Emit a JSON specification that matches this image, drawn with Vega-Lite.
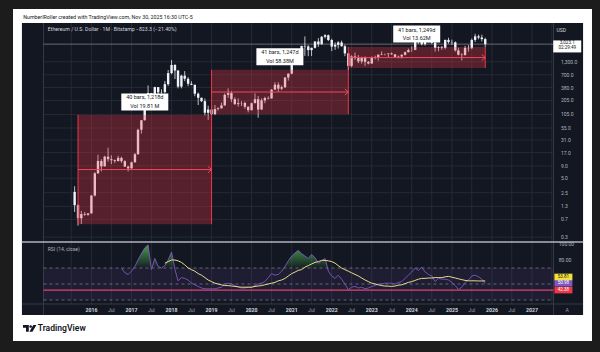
{
"$schema": "https://vega.github.io/schema/vega-lite/v6.json",
"background": "#1c1c1c",
"autosize": {"type": "none"},
"padding": {"left": 13, "top": 9, "right": 8, "bottom": 11},
"width": 579,
"height": 332,
"view": {"fill": "#ffffff", "stroke": null},
"config": {"font": "Roboto", "axis": {"disable": true}},
"resolve": {"scale": {"y": "independent"}},
"datasets": {
"candles": [
{"d":"2015-08-01","o":2.6,"h":3.4,"l":1.0,"c":1.38},
{"d":"2015-09-01","o":1.38,"h":1.45,"l":0.52,"c":0.74},
{"d":"2015-10-01","o":0.74,"h":1.05,"l":0.56,"c":0.9},
{"d":"2015-11-01","o":0.9,"h":1.0,"l":0.83,"c":0.87},
{"d":"2015-12-01","o":0.87,"h":0.95,"l":0.83,"c":0.93},
{"d":"2016-01-01","o":0.93,"h":2.25,"l":0.92,"c":2.18},
{"d":"2016-02-01","o":2.18,"h":6.7,"l":2.1,"c":6.3},
{"d":"2016-03-01","o":6.3,"h":15.3,"l":6.2,"c":11.4},
{"d":"2016-04-01","o":11.4,"h":12.4,"l":6.9,"c":8.8},
{"d":"2016-05-01","o":8.8,"h":14.6,"l":8.8,"c":14.0},
{"d":"2016-06-01","o":14.0,"h":21.5,"l":11.0,"c":12.4},
{"d":"2016-07-01","o":12.4,"h":14.9,"l":9.8,"c":11.8},
{"d":"2016-08-01","o":11.8,"h":12.2,"l":10.4,"c":11.3},
{"d":"2016-09-01","o":11.3,"h":14.6,"l":11.2,"c":13.2},
{"d":"2016-10-01","o":13.2,"h":14.0,"l":10.4,"c":11.3},
{"d":"2016-11-01","o":11.3,"h":11.8,"l":8.6,"c":8.7},
{"d":"2016-12-01","o":8.7,"h":9.1,"l":6.9,"c":8.0},
{"d":"2017-01-01","o":8.0,"h":11.0,"l":7.9,"c":10.7},
{"d":"2017-02-01","o":10.7,"h":16.6,"l":10.5,"c":15.7},
{"d":"2017-03-01","o":15.7,"h":53.0,"l":15.5,"c":50.6},
{"d":"2017-04-01","o":50.6,"h":80.3,"l":42.0,"c":79.9},
{"d":"2017-05-01","o":79.9,"h":232,"l":78,"c":230},
{"d":"2017-06-01","o":230,"h":420,"l":220,"c":292},
{"d":"2017-07-01","o":292,"h":293,"l":132,"c":201},
{"d":"2017-08-01","o":201,"h":395,"l":200,"c":388},
{"d":"2017-09-01","o":388,"h":390,"l":197,"c":302},
{"d":"2017-10-01","o":302,"h":350,"l":283,"c":305},
{"d":"2017-11-01","o":305,"h":520,"l":290,"c":447},
{"d":"2017-12-01","o":447,"h":880,"l":410,"c":756},
{"d":"2018-01-01","o":756,"h":1420,"l":717,"c":1118},
{"d":"2018-02-01","o":1118,"h":1160,"l":570,"c":856},
{"d":"2018-03-01","o":856,"h":880,"l":365,"c":397},
{"d":"2018-04-01","o":397,"h":700,"l":365,"c":670},
{"d":"2018-05-01","o":670,"h":835,"l":515,"c":578},
{"d":"2018-06-01","o":578,"h":625,"l":405,"c":455},
{"d":"2018-07-01","o":455,"h":515,"l":425,"c":434},
{"d":"2018-08-01","o":434,"h":435,"l":250,"c":283},
{"d":"2018-09-01","o":283,"h":300,"l":165,"c":233},
{"d":"2018-10-01","o":233,"h":235,"l":190,"c":198},
{"d":"2018-11-01","o":198,"h":225,"l":100,"c":114},
{"d":"2018-12-01","o":114,"h":160,"l":81,"c":133},
{"d":"2019-01-01","o":133,"h":160,"l":101,"c":107},
{"d":"2019-02-01","o":107,"h":165,"l":102,"c":136},
{"d":"2019-03-01","o":136,"h":148,"l":127,"c":141},
{"d":"2019-04-01","o":141,"h":185,"l":139,"c":162},
{"d":"2019-05-01","o":162,"h":288,"l":160,"c":268},
{"d":"2019-06-01","o":268,"h":365,"l":231,"c":291},
{"d":"2019-07-01","o":291,"h":320,"l":189,"c":218},
{"d":"2019-08-01","o":218,"h":238,"l":166,"c":172},
{"d":"2019-09-01","o":172,"h":225,"l":153,"c":180},
{"d":"2019-10-01","o":180,"h":198,"l":157,"c":182},
{"d":"2019-11-01","o":182,"h":194,"l":138,"c":152},
{"d":"2019-12-01","o":152,"h":155,"l":116,"c":129},
{"d":"2020-01-01","o":129,"h":185,"l":127,"c":180},
{"d":"2020-02-01","o":180,"h":288,"l":180,"c":218},
{"d":"2020-03-01","o":218,"h":253,"l":90,"c":133},
{"d":"2020-04-01","o":133,"h":227,"l":131,"c":206},
{"d":"2020-05-01","o":206,"h":245,"l":180,"c":231},
{"d":"2020-06-01","o":231,"h":250,"l":215,"c":226},
{"d":"2020-07-01","o":226,"h":350,"l":224,"c":345},
{"d":"2020-08-01","o":345,"h":490,"l":340,"c":435},
{"d":"2020-09-01","o":435,"h":488,"l":310,"c":360},
{"d":"2020-10-01","o":360,"h":420,"l":335,"c":386},
{"d":"2020-11-01","o":386,"h":625,"l":370,"c":614},
{"d":"2020-12-01","o":614,"h":755,"l":530,"c":737},
{"d":"2021-01-01","o":737,"h":1475,"l":715,"c":1314},
{"d":"2021-02-01","o":1314,"h":2040,"l":1300,"c":1417},
{"d":"2021-03-01","o":1417,"h":1945,"l":1400,"c":1919},
{"d":"2021-04-01","o":1919,"h":2800,"l":1870,"c":2773},
{"d":"2021-05-01","o":2773,"h":4380,"l":1730,"c":2707},
{"d":"2021-06-01","o":2707,"h":2890,"l":1700,"c":2275},
{"d":"2021-07-01","o":2275,"h":2550,"l":1720,"c":2536},
{"d":"2021-08-01","o":2536,"h":3470,"l":2450,"c":3433},
{"d":"2021-09-01","o":3433,"h":4030,"l":2650,"c":3001},
{"d":"2021-10-01","o":3001,"h":4460,"l":2970,"c":4288},
{"d":"2021-11-01","o":4288,"h":4870,"l":3960,"c":4631},
{"d":"2021-12-01","o":4631,"h":4780,"l":3500,"c":3683},
{"d":"2022-01-01","o":3683,"h":3900,"l":2160,"c":2688},
{"d":"2022-02-01","o":2688,"h":3280,"l":2300,"c":2922},
{"d":"2022-03-01","o":2922,"h":3480,"l":2450,"c":3282},
{"d":"2022-04-01","o":3282,"h":3580,"l":2700,"c":2730},
{"d":"2022-05-01","o":2730,"h":2960,"l":1700,"c":1942},
{"d":"2022-06-01","o":1942,"h":1970,"l":880,"c":1070},
{"d":"2022-07-01","o":1070,"h":1780,"l":1000,"c":1679},
{"d":"2022-08-01","o":1679,"h":2030,"l":1420,"c":1553},
{"d":"2022-09-01","o":1553,"h":1790,"l":1220,"c":1328},
{"d":"2022-10-01","o":1328,"h":1660,"l":1190,"c":1572},
{"d":"2022-11-01","o":1572,"h":1680,"l":1070,"c":1295},
{"d":"2022-12-01","o":1295,"h":1350,"l":1150,"c":1196},
{"d":"2023-01-01","o":1196,"h":1680,"l":1190,"c":1586},
{"d":"2023-02-01","o":1586,"h":1740,"l":1460,"c":1605},
{"d":"2023-03-01","o":1605,"h":1850,"l":1370,"c":1822},
{"d":"2023-04-01","o":1822,"h":2140,"l":1780,"c":1869},
{"d":"2023-05-01","o":1869,"h":1930,"l":1760,"c":1874},
{"d":"2023-06-01","o":1874,"h":1930,"l":1620,"c":1934},
{"d":"2023-07-01","o":1934,"h":2030,"l":1825,"c":1857},
{"d":"2023-08-01","o":1857,"h":1870,"l":1550,"c":1646},
{"d":"2023-09-01","o":1646,"h":1750,"l":1530,"c":1671},
{"d":"2023-10-01","o":1671,"h":1865,"l":1520,"c":1815},
{"d":"2023-11-01","o":1815,"h":2130,"l":1760,"c":2052},
{"d":"2023-12-01","o":2052,"h":2450,"l":2050,"c":2282},
{"d":"2024-01-01","o":2282,"h":2720,"l":2100,"c":2283},
{"d":"2024-02-01","o":2283,"h":3520,"l":2260,"c":3340},
{"d":"2024-03-01","o":3340,"h":4090,"l":3050,"c":3647},
{"d":"2024-04-01","o":3647,"h":3730,"l":2850,"c":3013},
{"d":"2024-05-01","o":3013,"h":3980,"l":2820,"c":3761},
{"d":"2024-06-01","o":3761,"h":3890,"l":3240,"c":3434},
{"d":"2024-07-01","o":3434,"h":3560,"l":3060,"c":3232},
{"d":"2024-08-01","o":3232,"h":3480,"l":2120,"c":2514},
{"d":"2024-09-01","o":2514,"h":2730,"l":2150,"c":2604},
{"d":"2024-10-01","o":2604,"h":2770,"l":2310,"c":2518},
{"d":"2024-11-01","o":2518,"h":3740,"l":2360,"c":3703},
{"d":"2024-12-01","o":3703,"h":4110,"l":3100,"c":3332},
{"d":"2025-01-01","o":3332,"h":3745,"l":2920,"c":3300},
{"d":"2025-02-01","o":3300,"h":3440,"l":2120,"c":2237},
{"d":"2025-03-01","o":2237,"h":2550,"l":1760,"c":1822},
{"d":"2025-04-01","o":1822,"h":1960,"l":1385,"c":1794},
{"d":"2025-05-01","o":1794,"h":2790,"l":1750,"c":2529},
{"d":"2025-06-01","o":2529,"h":2880,"l":2110,"c":2486},
{"d":"2025-07-01","o":2486,"h":3940,"l":2370,"c":3698},
{"d":"2025-08-01","o":3698,"h":4955,"l":3350,"c":4390},
{"d":"2025-09-01","o":4390,"h":4770,"l":3815,"c":4145},
{"d":"2025-10-01","o":4145,"h":4755,"l":3435,"c":3846.4},
{"d":"2025-11-01","o":3846.4,"h":4100,"l":2620,"c":3023.1}
],
"boxes": [
{"s":"2015-09-01","e":"2019-01-01","lab":"2017-05-02","lo":0.557,"hi":102.7,"mid":7.56,"t1":"40 bars, 1,218d","t2":"Vol 19.81 M"},
{"s":"2019-01-01","e":"2022-06-01","lab":"2020-09-15","lo":106.5,"hi":887,"mid":307,"t1":"41 bars, 1,247d","t2":"Vol 58.38M"},
{"s":"2022-06-01","e":"2025-11-01","lab":"2024-02-15","lo":962,"hi":2630,"mid":1590,"t1":"41 bars, 1,249d","t2":"Vol 13.62M"}
],
"ticks": [{"p":0.3},{"p":0.7},{"p":1.3},{"p":2.5},{"p":5},{"p":9},{"p":17},{"p":31},{"p":55},{"p":105},{"p":205},{"p":380},{"p":700},{"p":1300}],
"vgrid": [{"d":"2015-07-01"},{"d":"2016-01-01"},{"d":"2016-07-01"},{"d":"2017-01-01"},{"d":"2017-07-01"},{"d":"2018-01-01"},{"d":"2018-07-01"},{"d":"2019-01-01"},{"d":"2019-07-01"},{"d":"2020-01-01"},{"d":"2020-07-01"},{"d":"2021-01-01"},{"d":"2021-07-01"},{"d":"2022-01-01"},{"d":"2022-07-01"},{"d":"2023-01-01"},{"d":"2023-07-01"},{"d":"2024-01-01"},{"d":"2024-07-01"},{"d":"2025-01-01"},{"d":"2025-07-01"},{"d":"2026-01-01"},{"d":"2026-07-01"},{"d":"2027-01-01"},{"d":"2027-07-01"}],
"xl": [{"d":"2016-01-01","t":"2016"},{"d":"2016-07-01","t":"Jul"},{"d":"2017-01-01","t":"2017"},{"d":"2017-07-01","t":"Jul"},{"d":"2018-01-01","t":"2018"},{"d":"2018-07-01","t":"Jul"},{"d":"2019-01-01","t":"2019"},{"d":"2019-07-01","t":"Jul"},{"d":"2020-01-01","t":"2020"},{"d":"2020-07-01","t":"Jul"},{"d":"2021-01-01","t":"2021"},{"d":"2021-07-01","t":"Jul"},{"d":"2022-01-01","t":"2022"},{"d":"2022-07-01","t":"Jul"},{"d":"2023-01-01","t":"2023"},{"d":"2023-07-01","t":"Jul"},{"d":"2024-01-01","t":"2024"},{"d":"2024-07-01","t":"Jul"},{"d":"2025-01-01","t":"2025"},{"d":"2025-07-01","t":"Jul"},{"d":"2026-01-01","t":"2026"},{"d":"2026-07-01","t":"Jul"},{"d":"2027-01-01","t":"2027"}],
"rsi": [
{"d":"2016-10-01","rsi":70,"ob":70},{"d":"2016-11-01","rsi":64,"ob":70},{"d":"2016-12-01","rsi":62,"ob":70},
{"d":"2017-01-01","rsi":66,"ob":70},{"d":"2017-02-01","rsi":72,"ob":72},{"d":"2017-03-01","rsi":80,"ob":80},{"d":"2017-04-01","rsi":88,"ob":88},{"d":"2017-05-01","rsi":95,"ob":95},{"d":"2017-06-01","rsi":99,"ob":99},{"d":"2017-07-01","rsi":68,"ob":70},{"d":"2017-08-01","rsi":82,"ob":82},{"d":"2017-09-01","rsi":72,"ob":72},{"d":"2017-10-01","rsi":70,"ob":70},{"d":"2017-11-01","rsi":73,"ob":73,"ma":76},{"d":"2017-12-01","rsi":80,"ob":80,"ma":78},
{"d":"2018-01-01","rsi":90,"ob":90,"ma":80},{"d":"2018-02-01","rsi":68,"ob":70,"ma":80},{"d":"2018-03-01","rsi":54,"ob":70,"ma":79},{"d":"2018-04-01","rsi":58,"ob":70,"ma":77},{"d":"2018-05-01","rsi":57,"ob":70,"ma":74},{"d":"2018-06-01","rsi":55,"ob":70,"ma":70},{"d":"2018-07-01","rsi":51,"ob":70,"ma":68},{"d":"2018-08-01","rsi":49,"ob":70,"ma":66},{"d":"2018-09-01","rsi":47,"ob":70,"ma":63},{"d":"2018-10-01","rsi":45,"ob":70,"ma":61},{"d":"2018-11-01","rsi":44,"ob":70,"ma":58},{"d":"2018-12-01","rsi":44,"ob":70,"ma":55},
{"d":"2019-01-01","rsi":44,"ob":70,"ma":53},{"d":"2019-02-01","rsi":44,"ob":70,"ma":51},{"d":"2019-03-01","rsi":45,"ob":70,"ma":50},{"d":"2019-04-01","rsi":46,"ob":70,"ma":49},{"d":"2019-05-01","rsi":50,"ob":70,"ma":48},{"d":"2019-06-01","rsi":51,"ob":70,"ma":48},{"d":"2019-07-01","rsi":50,"ob":70,"ma":47.5},{"d":"2019-08-01","rsi":48,"ob":70,"ma":47},{"d":"2019-09-01","rsi":46,"ob":70,"ma":46.5},{"d":"2019-10-01","rsi":45,"ob":70,"ma":46},{"d":"2019-11-01","rsi":45,"ob":70,"ma":46},{"d":"2019-12-01","rsi":46,"ob":70,"ma":46},
{"d":"2020-01-01","rsi":46,"ob":70,"ma":46},{"d":"2020-02-01","rsi":48,"ob":70,"ma":47},{"d":"2020-03-01","rsi":50,"ob":70,"ma":47.5},{"d":"2020-04-01","rsi":51,"ob":70,"ma":48},{"d":"2020-05-01","rsi":53,"ob":70,"ma":49},{"d":"2020-06-01","rsi":58,"ob":70,"ma":50},{"d":"2020-07-01","rsi":63,"ob":70,"ma":51},{"d":"2020-08-01","rsi":61,"ob":70,"ma":52},{"d":"2020-09-01","rsi":62,"ob":70,"ma":54},{"d":"2020-10-01","rsi":66,"ob":70,"ma":55},{"d":"2020-11-01","rsi":72,"ob":72,"ma":57},{"d":"2020-12-01","rsi":79,"ob":79,"ma":60},
{"d":"2021-01-01","rsi":85,"ob":85,"ma":63},{"d":"2021-02-01","rsi":89,"ob":89,"ma":65},{"d":"2021-03-01","rsi":92,"ob":92,"ma":67},{"d":"2021-04-01","rsi":88,"ob":88,"ma":68},{"d":"2021-05-01","rsi":85,"ob":85,"ma":71},{"d":"2021-06-01","rsi":82,"ob":82,"ma":73},{"d":"2021-07-01","rsi":87,"ob":87,"ma":75},{"d":"2021-08-01","rsi":83,"ob":83,"ma":77},{"d":"2021-09-01","rsi":76,"ob":76,"ma":78},{"d":"2021-10-01","rsi":79,"ob":79,"ma":79.5},{"d":"2021-11-01","rsi":82,"ob":82,"ma":79.5},{"d":"2021-12-01","rsi":66,"ob":70,"ma":79},
{"d":"2022-01-01","rsi":60,"ob":70,"ma":78},{"d":"2022-02-01","rsi":57,"ob":70,"ma":76},{"d":"2022-03-01","rsi":61,"ob":70,"ma":73},{"d":"2022-04-01","rsi":56,"ob":70,"ma":70},{"d":"2022-05-01","rsi":50,"ob":70,"ma":68},{"d":"2022-06-01","rsi":43,"ob":70,"ma":66},{"d":"2022-07-01","rsi":46,"ob":70,"ma":64},{"d":"2022-08-01","rsi":47,"ob":70,"ma":62},{"d":"2022-09-01","rsi":45,"ob":70,"ma":60},{"d":"2022-10-01","rsi":46,"ob":70,"ma":57.5},{"d":"2022-11-01","rsi":44,"ob":70,"ma":55},{"d":"2022-12-01","rsi":45,"ob":70,"ma":53},
{"d":"2023-01-01","rsi":47,"ob":70,"ma":51},{"d":"2023-02-01","rsi":48,"ob":70,"ma":50},{"d":"2023-03-01","rsi":50,"ob":70,"ma":49},{"d":"2023-04-01","rsi":50,"ob":70,"ma":48},{"d":"2023-05-01","rsi":51,"ob":70,"ma":47.5},{"d":"2023-06-01","rsi":51,"ob":70,"ma":47.3},{"d":"2023-07-01","rsi":51,"ob":70,"ma":47},{"d":"2023-08-01","rsi":50,"ob":70,"ma":47.5},{"d":"2023-09-01","rsi":52,"ob":70,"ma":48.5},{"d":"2023-10-01","rsi":53,"ob":70,"ma":49},{"d":"2023-11-01","rsi":57,"ob":70,"ma":50.5},{"d":"2023-12-01","rsi":61,"ob":70,"ma":52},
{"d":"2024-01-01","rsi":65,"ob":70,"ma":53},{"d":"2024-02-01","rsi":70,"ob":70,"ma":54.5},{"d":"2024-03-01","rsi":67,"ob":70,"ma":56},{"d":"2024-04-01","rsi":71,"ob":71,"ma":57},{"d":"2024-05-01","rsi":65,"ob":70,"ma":57},{"d":"2024-06-01","rsi":62,"ob":70,"ma":57.5},{"d":"2024-07-01","rsi":60,"ob":70,"ma":57.5},{"d":"2024-08-01","rsi":53,"ob":70,"ma":58},{"d":"2024-09-01","rsi":57,"ob":70,"ma":58},{"d":"2024-10-01","rsi":56,"ob":70,"ma":58},{"d":"2024-11-01","rsi":56,"ob":70,"ma":59},{"d":"2024-12-01","rsi":55,"ob":70,"ma":59.5},
{"d":"2025-01-01","rsi":52,"ob":70,"ma":58.5},{"d":"2025-02-01","rsi":48,"ob":70,"ma":57.5},{"d":"2025-03-01","rsi":43,"ob":70,"ma":56.5},{"d":"2025-04-01","rsi":46,"ob":70,"ma":55.5},{"d":"2025-05-01","rsi":52,"ob":70,"ma":54.5},{"d":"2025-06-01","rsi":55,"ob":70,"ma":54},{"d":"2025-07-01","rsi":60,"ob":70,"ma":54},{"d":"2025-08-01","rsi":61,"ob":70,"ma":54},{"d":"2025-09-01","rsi":59,"ob":70,"ma":53.8},{"d":"2025-10-01","rsi":56,"ob":70,"ma":53.8},{"d":"2025-11-01","rsi":50.98,"ob":70,"ma":53.81}
]
},
"layer": [
{"layer": [
{"data": {"values": [{}]}, "mark": {"type": "rect", "color": "#131722", "opacity": 1},
 "encoding": {"x": {"datum": 1396854720000, "type": "temporal", "scale": {"type": "utc", "nice": false, "domain": [1393757280000, 1842147360000]}},
  "x2": {"datum": 1839049920000},
  "y": {"datum": 376.25, "type": "quantitative", "scale": {"nice": false, "zero": false, "domain": [-21.25, 393.75]}},
  "y2": {"datum": 11.25}}},
{"data": {"name": "vgrid"}, "mark": {"type": "rule", "color": "#2a2e39", "strokeWidth": 0.8},
 "encoding": {"x": {"field": "d", "type": "temporal", "scale": {"type": "utc", "nice": false, "domain": [1393757280000, 1842147360000]}},
  "y": {"datum": 25, "type": "quantitative", "scale": {"nice": false, "zero": false, "domain": [-21.25, 393.75]}},
  "y2": {"datum": 376.25}}},
{"data": {"values": [{"d": "2014-10-21"}, {"d": "2027-07-17"}]}, "mark": {"type": "rule", "color": "#363a45", "strokeWidth": 1},
 "encoding": {"x": {"field": "d", "type": "temporal", "scale": {"type": "utc", "nice": false, "domain": [1393757280000, 1842147360000]}},
  "y": {"datum": 11.25, "type": "quantitative", "scale": {"nice": false, "zero": false, "domain": [-21.25, 393.75]}},
  "y2": {"datum": 376.25}}},
{"data": {"values": [{"lv": 25}]}, "mark": {"type": "rule", "color": "#363a45", "strokeWidth": 1},
 "encoding": {"x": {"datum": 1396854720000, "type": "temporal", "scale": {"type": "utc", "nice": false, "domain": [1393757280000, 1842147360000]}},
  "x2": {"datum": 1839049920000},
  "y": {"field": "lv", "type": "quantitative", "scale": {"nice": false, "zero": false, "domain": [-21.25, 393.75]}}}},
{"data": {"values": [{"lv": 102.5}]}, "mark": {"type": "rule", "color": "#b2b5be", "strokeWidth": 1.3},
 "encoding": {"x": {"datum": 1396854720000, "type": "temporal", "scale": {"type": "utc", "nice": false, "domain": [1393757280000, 1842147360000]}},
  "x2": {"datum": 1839049920000},
  "y": {"field": "lv", "type": "quantitative", "scale": {"nice": false, "zero": false, "domain": [-21.25, 393.75]}}}},
{"data": {"values": [{}]}, "mark": {"type": "rect", "color": "#7e57c2", "opacity": 0.1},
 "encoding": {"x": {"datum": {"year": 2014, "month": 10, "date": 21, "utc": true}, "type": "temporal", "scale": {"type": "utc", "nice": false, "domain": [1393757280000, 1842147360000]}},
  "x2": {"datum": {"year": 2027, "month": 7, "date": 17, "utc": true}},
  "y": {"datum": 70, "type": "quantitative", "scale": {"nice": false, "zero": false, "domain": [-21.25, 393.75]}},
  "y2": {"datum": 30}}},
{"data": {"values": [{"lv": 70}, {"lv": 50}, {"lv": 30}]}, "mark": {"type": "rule", "color": "#787b86", "strokeWidth": 0.8, "strokeDash": [3, 3]},
 "encoding": {"x": {"datum": {"year": 2014, "month": 10, "date": 21, "utc": true}, "type": "temporal", "scale": {"type": "utc", "nice": false, "domain": [1393757280000, 1842147360000]}},
  "x2": {"datum": {"year": 2027, "month": 7, "date": 17, "utc": true}},
  "y": {"field": "lv", "type": "quantitative", "scale": {"nice": false, "zero": false, "domain": [-21.25, 393.75]}}}},
{"data": {"values": [{"lv": 42.38}]}, "mark": {"type": "rule", "color": "#e0446a", "strokeWidth": 1.2},
 "encoding": {"x": {"datum": {"year": 2014, "month": 10, "date": 21, "utc": true}, "type": "temporal", "scale": {"type": "utc", "nice": false, "domain": [1393757280000, 1842147360000]}},
  "x2": {"datum": {"year": 2027, "month": 7, "date": 17, "utc": true}},
  "y": {"field": "lv", "type": "quantitative", "scale": {"nice": false, "zero": false, "domain": [-21.25, 393.75]}}}},
{"data": {"name": "rsi"}, "mark": {"type": "area", "opacity": 0.9, "color": {"gradient": "linear", "x1": 0, "y1": 0, "x2": 0, "y2": 1, "stops": [{"offset": 0, "color": "#4caf50"}, {"offset": 1, "color": "rgba(76,175,80,0.05)"}]}},
 "encoding": {"x": {"field": "d", "type": "temporal", "scale": {"type": "utc", "nice": false, "domain": [1393757280000, 1842147360000]}},
  "y": {"field": "ob", "type": "quantitative", "scale": {"nice": false, "zero": false, "domain": [-21.25, 393.75]}},
  "y2": {"datum": 70}}},
{"data": {"name": "rsi"}, "mark": {"type": "line", "color": "#7e57c2", "strokeWidth": 0.9},
 "encoding": {"x": {"field": "d", "type": "temporal", "scale": {"type": "utc", "nice": false, "domain": [1393757280000, 1842147360000]}},
  "y": {"field": "rsi", "type": "quantitative", "scale": {"nice": false, "zero": false, "domain": [-21.25, 393.75]}}}},
{"data": {"name": "rsi"}, "transform": [{"filter": "isValid(datum.ma)"}], "mark": {"type": "line", "color": "#e9dc8c", "strokeWidth": 1},
 "encoding": {"x": {"field": "d", "type": "temporal", "scale": {"type": "utc", "nice": false, "domain": [1393757280000, 1842147360000]}},
  "y": {"field": "ma", "type": "quantitative", "scale": {"nice": false, "zero": false, "domain": [-21.25, 393.75]}}}},
{"data": {"name": "xl"}, "transform": [{"filter": "datum.t != 'Jul'"}], "mark": {"type": "text", "fontSize": 5.2, "fontWeight": "bold", "color": "#d1d4dc", "align": "center", "baseline": "middle"},
 "encoding": {"x": {"field": "d", "type": "temporal", "scale": {"type": "utc", "nice": false, "domain": [1393757280000, 1842147360000]}},
  "y": {"datum": 17.9, "type": "quantitative", "scale": {"nice": false, "zero": false, "domain": [-21.25, 393.75]}},
  "text": {"field": "t"}}},
{"data": {"name": "xl"}, "transform": [{"filter": "datum.t == 'Jul'"}], "mark": {"type": "text", "fontSize": 5.2, "color": "#9598a1", "align": "center", "baseline": "middle"},
 "encoding": {"x": {"field": "d", "type": "temporal", "scale": {"type": "utc", "nice": false, "domain": [1393757280000, 1842147360000]}},
  "y": {"datum": 17.9, "type": "quantitative", "scale": {"nice": false, "zero": false, "domain": [-21.25, 393.75]}},
  "text": {"field": "t"}}},
{"data": {"values": [{"v": 17.9, "t": "A"}]}, "mark": {"type": "text", "fontSize": 5.2, "color": "#9598a1", "align": "center", "baseline": "middle"},
 "encoding": {"x": {"datum": {"year": 2027, "month": 11, "date": 19, "utc": true}, "type": "temporal", "scale": {"type": "utc", "nice": false, "domain": [1393757280000, 1842147360000]}},
  "y": {"field": "v", "type": "quantitative", "scale": {"nice": false, "zero": false, "domain": [-21.25, 393.75]}},
  "text": {"field": "t"}}},
{"data": {"values": [{"v": 100}, {"v": 80}]}, "mark": {"type": "text", "fontSize": 5, "color": "#b2b5be", "align": "left", "baseline": "middle"},
 "encoding": {"x": {"datum": {"year": 2027, "month": 9, "date": 3, "utc": true}, "type": "temporal", "scale": {"type": "utc", "nice": false, "domain": [1393757280000, 1842147360000]}},
  "y": {"field": "v", "type": "quantitative", "scale": {"nice": false, "zero": false, "domain": [-21.25, 393.75]}},
  "text": {"field": "v", "format": ".2f"}}},
{"data": {"values": [{"v": 93.75, "t": "RSI (14, close)"}]}, "mark": {"type": "text", "fontSize": 5, "color": "#b2b5be", "align": "left", "baseline": "middle"},
 "encoding": {"x": {"datum": 1417219200000, "type": "temporal", "scale": {"type": "utc", "nice": false, "domain": [1393757280000, 1842147360000]}},
  "y": {"field": "v", "type": "quantitative", "scale": {"nice": false, "zero": false, "domain": [-21.25, 393.75]}},
  "text": {"field": "t"}}},
{"data": {"values": [{"v": 368.75, "t": "Ethereum / U.S. Dollar · 1M · Bitstamp  −823.3 (−21.40%)"}]}, "mark": {"type": "text", "fontSize": 5.2, "color": "#d1d4dc", "align": "left", "baseline": "middle"},
 "encoding": {"x": {"datum": 1417219200000, "type": "temporal", "scale": {"type": "utc", "nice": false, "domain": [1393757280000, 1842147360000]}},
  "y": {"field": "v", "type": "quantitative", "scale": {"nice": false, "zero": false, "domain": [-21.25, 393.75]}},
  "text": {"field": "t"}}},
{"data": {"values": [{"v": 384.1, "t": "NumberIRoller created with TradingView.com, Nov 30, 2025 16:30 UTC-5"}]}, "mark": {"type": "text", "fontSize": 5.3, "color": "#131722", "align": "left", "baseline": "middle"},
 "encoding": {"x": {"datum": 1397861280000, "type": "temporal", "scale": {"type": "utc", "nice": false, "domain": [1393757280000, 1842147360000]}},
  "y": {"field": "v", "type": "quantitative", "scale": {"nice": false, "zero": false, "domain": [-21.25, 393.75]}},
  "text": {"field": "t"}}},
{"data": {"values": [{"v": -8.4, "t": "TradingView"}]}, "mark": {"type": "text", "fontSize": 8.6, "fontWeight": 600, "color": "#131722", "align": "left", "baseline": "alphabetic"},
 "encoding": {"x": {"datum": 1409244480000, "type": "temporal", "scale": {"type": "utc", "nice": false, "domain": [1393757280000, 1842147360000]}},
  "y": {"field": "v", "type": "quantitative", "scale": {"nice": false, "zero": false, "domain": [-21.25, 393.75]}},
  "text": {"field": "t"}}},
{"data": {"values": [{"v": -5.5}]}, "mark": {"type": "point", "shape": "M-6.7,-3.35H-0.9V3.35H-3.7V-0.7H-6.7Z M-0.4,-1.9A1.35,1.35 0 1,0 2.3,-1.9A1.35,1.35 0 1,0 -0.4,-1.9Z M3.6,-3.35H6.7L2.8,3.35H-0.3Z", "size": 4, "filled": true, "color": "#131722", "opacity": 1},
 "encoding": {"x": {"datum": 1402971840000, "type": "temporal", "scale": {"type": "utc", "nice": false, "domain": [1393757280000, 1842147360000]}},
  "y": {"field": "v", "type": "quantitative", "scale": {"nice": false, "zero": false, "domain": [-21.25, 393.75]}}}},
{"data": {"values": [{"v": 42.38}]}, "mark": {"type": "point", "shape": "M-1,-0.367L1,-0.367L1,0.367L-1,0.367Z", "size": 324, "filled": true, "color": "#f23645", "opacity": 1},
 "encoding": {"x": {"datum": {"year": 2027, "month": 10, "date": 15, "utc": true}, "type": "temporal", "scale": {"type": "utc", "nice": false, "domain": [1393757280000, 1842147360000]}},
  "y": {"field": "v", "type": "quantitative", "scale": {"nice": false, "zero": false, "domain": [-21.25, 393.75]}}}},
{"data": {"values": [{"v": 50.98}]}, "mark": {"type": "point", "shape": "M-1,-0.367L1,-0.367L1,0.367L-1,0.367Z", "size": 324, "filled": true, "color": "#7e57c2", "opacity": 1},
 "encoding": {"x": {"datum": {"year": 2027, "month": 10, "date": 15, "utc": true}, "type": "temporal", "scale": {"type": "utc", "nice": false, "domain": [1393757280000, 1842147360000]}},
  "y": {"field": "v", "type": "quantitative", "scale": {"nice": false, "zero": false, "domain": [-21.25, 393.75]}}}},
{"data": {"values": [{"v": 53.81}]}, "mark": {"type": "point", "shape": "M-1,-0.811L1,-0.811L1,-0.078L-1,-0.078Z", "size": 324, "filled": true, "color": "#f2e03c", "opacity": 1},
 "encoding": {"x": {"datum": {"year": 2027, "month": 10, "date": 15, "utc": true}, "type": "temporal", "scale": {"type": "utc", "nice": false, "domain": [1393757280000, 1842147360000]}},
  "y": {"field": "v", "type": "quantitative", "scale": {"nice": false, "zero": false, "domain": [-21.25, 393.75]}}}},
{"data": {"values": [{"v": 42.38, "t": "42.38"}, {"v": 50.98, "t": "50.98"}]}, "mark": {"type": "text", "fontSize": 4.5, "color": "#ffffff", "align": "center", "baseline": "middle"},
 "encoding": {"x": {"datum": {"year": 2027, "month": 10, "date": 15, "utc": true}, "type": "temporal", "scale": {"type": "utc", "nice": false, "domain": [1393757280000, 1842147360000]}},
  "y": {"field": "v", "type": "quantitative", "scale": {"nice": false, "zero": false, "domain": [-21.25, 393.75]}},
  "text": {"field": "t"}}},
{"data": {"values": [{"v": 53.81, "t": "53.81"}]}, "mark": {"type": "text", "fontSize": 4.5, "color": "#131722", "align": "center", "baseline": "middle", "dy": -4},
 "encoding": {"x": {"datum": {"year": 2027, "month": 10, "date": 15, "utc": true}, "type": "temporal", "scale": {"type": "utc", "nice": false, "domain": [1393757280000, 1842147360000]}},
  "y": {"field": "v", "type": "quantitative", "scale": {"nice": false, "zero": false, "domain": [-21.25, 393.75]}},
  "text": {"field": "t"}}}
]},
{"layer": [
{"data": {"name": "ticks"}, "mark": {"type": "rule", "color": "#2a2e39", "strokeWidth": 0.8},
 "encoding": {"x": {"datum": {"year": 2014, "month": 10, "date": 21, "utc": true}, "type": "temporal", "scale": {"type": "utc", "nice": false, "domain": [1393757280000, 1842147360000]}},
  "x2": {"datum": {"year": 2027, "month": 7, "date": 17, "utc": true}},
  "y": {"field": "p", "type": "quantitative", "scale": {"type": "log", "nice": false, "domain": [0.0020961, 16195]}}}},
{"data": {"name": "ticks"}, "mark": {"type": "text", "fontSize": 5, "color": "#b2b5be", "align": "left", "baseline": "middle"},
 "encoding": {"x": {"datum": {"year": 2027, "month": 9, "date": 22, "hours": 14, "utc": true}, "type": "temporal", "scale": {"type": "utc", "nice": false, "domain": [1393757280000, 1842147360000]}},
  "y": {"field": "p", "type": "quantitative", "scale": {"type": "log", "nice": false, "domain": [0.0020961, 16195]}},
  "text": {"field": "p", "format": ",.1f"}}},
{"data": {"values": [{"p": 5938, "t": "USD"}]}, "mark": {"type": "text", "fontSize": 5, "color": "#d1d4dc", "align": "left", "baseline": "middle"},
 "encoding": {"x": {"datum": {"year": 2027, "month": 8, "date": 13, "utc": true}, "type": "temporal", "scale": {"type": "utc", "nice": false, "domain": [1393757280000, 1842147360000]}},
  "y": {"field": "p", "type": "quantitative", "scale": {"type": "log", "nice": false, "domain": [0.0020961, 16195]}},
  "text": {"field": "t"}}},
{"data": {"values": [{"p": 3023.1}]}, "mark": {"type": "rule", "color": "#b2b5be", "strokeWidth": 0.7, "opacity": 0.75},
 "encoding": {"x": {"datum": {"year": 2014, "month": 10, "date": 21, "utc": true}, "type": "temporal", "scale": {"type": "utc", "nice": false, "domain": [1393757280000, 1842147360000]}},
  "x2": {"datum": {"year": 2027, "month": 7, "date": 17, "utc": true}},
  "y": {"field": "p", "type": "quantitative", "scale": {"type": "log", "nice": false, "domain": [0.0020961, 16195]}}}},
{"data": {"name": "candles"}, "mark": {"type": "rule", "color": "#e8eaef", "strokeWidth": 0.8},
 "encoding": {"x": {"field": "d", "type": "temporal", "scale": {"type": "utc", "nice": false, "domain": [1393757280000, 1842147360000]}},
  "y": {"field": "l", "type": "quantitative", "scale": {"type": "log", "nice": false, "domain": [0.0020961, 16195]}},
  "y2": {"field": "h"}}},
{"data": {"name": "candles"}, "mark": {"type": "bar", "color": "#f0f3fa", "size": 2.4},
 "encoding": {"x": {"field": "d", "type": "temporal", "scale": {"type": "utc", "nice": false, "domain": [1393757280000, 1842147360000]}},
  "y": {"field": "o", "type": "quantitative", "scale": {"type": "log", "nice": false, "domain": [0.0020961, 16195]}},
  "y2": {"field": "c"}}},
{"data": {"name": "boxes"}, "mark": {"type": "rect", "color": "#f23645", "opacity": 0.3},
 "encoding": {"x": {"field": "s", "type": "temporal", "scale": {"type": "utc", "nice": false, "domain": [1393757280000, 1842147360000]}},
  "x2": {"field": "e"},
  "y": {"field": "lo", "type": "quantitative", "scale": {"type": "log", "nice": false, "domain": [0.0020961, 16195]}},
  "y2": {"field": "hi"}}},
{"data": {"name": "boxes"}, "mark": {"type": "rule", "color": "#f23645", "strokeWidth": 1},
 "encoding": {"x": {"field": "s", "type": "temporal", "scale": {"type": "utc", "nice": false, "domain": [1393757280000, 1842147360000]}},
  "y": {"field": "lo", "type": "quantitative", "scale": {"type": "log", "nice": false, "domain": [0.0020961, 16195]}},
  "y2": {"field": "hi"}}},
{"data": {"name": "boxes"}, "mark": {"type": "rule", "color": "#f23645", "strokeWidth": 1},
 "encoding": {"x": {"field": "e", "type": "temporal", "scale": {"type": "utc", "nice": false, "domain": [1393757280000, 1842147360000]}},
  "y": {"field": "lo", "type": "quantitative", "scale": {"type": "log", "nice": false, "domain": [0.0020961, 16195]}},
  "y2": {"field": "hi"}}},
{"data": {"name": "boxes"}, "mark": {"type": "rule", "color": "#f0485e", "strokeWidth": 1},
 "encoding": {"x": {"field": "s", "type": "temporal", "scale": {"type": "utc", "nice": false, "domain": [1393757280000, 1842147360000]}},
  "x2": {"field": "e"},
  "y": {"field": "mid", "type": "quantitative", "scale": {"type": "log", "nice": false, "domain": [0.0020961, 16195]}}}},
{"data": {"name": "boxes"}, "mark": {"type": "point", "shape": "M-1.1,-1L0,0L-1.1,1", "size": 40, "filled": false, "color": "#f0485e", "strokeWidth": 1, "opacity": 1},
 "encoding": {"x": {"field": "e", "type": "temporal", "scale": {"type": "utc", "nice": false, "domain": [1393757280000, 1842147360000]}},
  "y": {"field": "mid", "type": "quantitative", "scale": {"type": "log", "nice": false, "domain": [0.0020961, 16195]}}}},
{"data": {"name": "boxes"}, "mark": {"type": "point", "shape": "M-1,-0.915L1,-0.915L1,-0.191L-1,-0.191Z", "size": 2209, "filled": true, "color": "#ffffff", "opacity": 1},
 "encoding": {"x": {"field": "lab", "type": "temporal", "scale": {"type": "utc", "nice": false, "domain": [1393757280000, 1842147360000]}},
  "y": {"field": "hi", "type": "quantitative", "scale": {"type": "log", "nice": false, "domain": [0.0020961, 16195]}}}},
{"data": {"name": "boxes"}, "mark": {"type": "text", "fontSize": 5.5, "color": "#131722", "align": "center", "baseline": "middle", "dy": -17.5},
 "encoding": {"x": {"field": "lab", "type": "temporal", "scale": {"type": "utc", "nice": false, "domain": [1393757280000, 1842147360000]}},
  "y": {"field": "hi", "type": "quantitative", "scale": {"type": "log", "nice": false, "domain": [0.0020961, 16195]}},
  "text": {"field": "t1"}}},
{"data": {"name": "boxes"}, "mark": {"type": "text", "fontSize": 5.5, "color": "#131722", "align": "center", "baseline": "middle", "dy": -8.7},
 "encoding": {"x": {"field": "lab", "type": "temporal", "scale": {"type": "utc", "nice": false, "domain": [1393757280000, 1842147360000]}},
  "y": {"field": "hi", "type": "quantitative", "scale": {"type": "log", "nice": false, "domain": [0.0020961, 16195]}},
  "text": {"field": "t2"}}},
{"data": {"values": [{"p": 3023.1, "t1": "3,023.1", "t2": "02:29:49"}]}, "mark": {"type": "point", "shape": "M-1,-0.264L1,-0.264L1,0.593L-1,0.593Z", "size": 784, "filled": true, "color": "#ffffff", "opacity": 1},
 "encoding": {"x": {"datum": {"year": 2027, "month": 11, "date": 19, "utc": true}, "type": "temporal", "scale": {"type": "utc", "nice": false, "domain": [1393757280000, 1842147360000]}},
  "y": {"field": "p", "type": "quantitative", "scale": {"type": "log", "nice": false, "domain": [0.0020961, 16195]}}}},
{"data": {"values": [{"p": 3023.1, "t1": "3,023.1", "t2": "02:29:49"}]}, "mark": {"type": "text", "fontSize": 4.6, "color": "#131722", "align": "center", "baseline": "middle", "dy": -1.1},
 "encoding": {"x": {"datum": {"year": 2027, "month": 11, "date": 19, "utc": true}, "type": "temporal", "scale": {"type": "utc", "nice": false, "domain": [1393757280000, 1842147360000]}},
  "y": {"field": "p", "type": "quantitative", "scale": {"type": "log", "nice": false, "domain": [0.0020961, 16195]}},
  "text": {"field": "t1"}}},
{"data": {"values": [{"p": 3023.1, "t1": "3,023.1", "t2": "02:29:49"}]}, "mark": {"type": "text", "fontSize": 4.6, "color": "#131722", "align": "center", "baseline": "middle", "dy": 3.9},
 "encoding": {"x": {"datum": {"year": 2027, "month": 11, "date": 19, "utc": true}, "type": "temporal", "scale": {"type": "utc", "nice": false, "domain": [1393757280000, 1842147360000]}},
  "y": {"field": "p", "type": "quantitative", "scale": {"type": "log", "nice": false, "domain": [0.0020961, 16195]}},
  "text": {"field": "t2"}}}
]}
]
}
